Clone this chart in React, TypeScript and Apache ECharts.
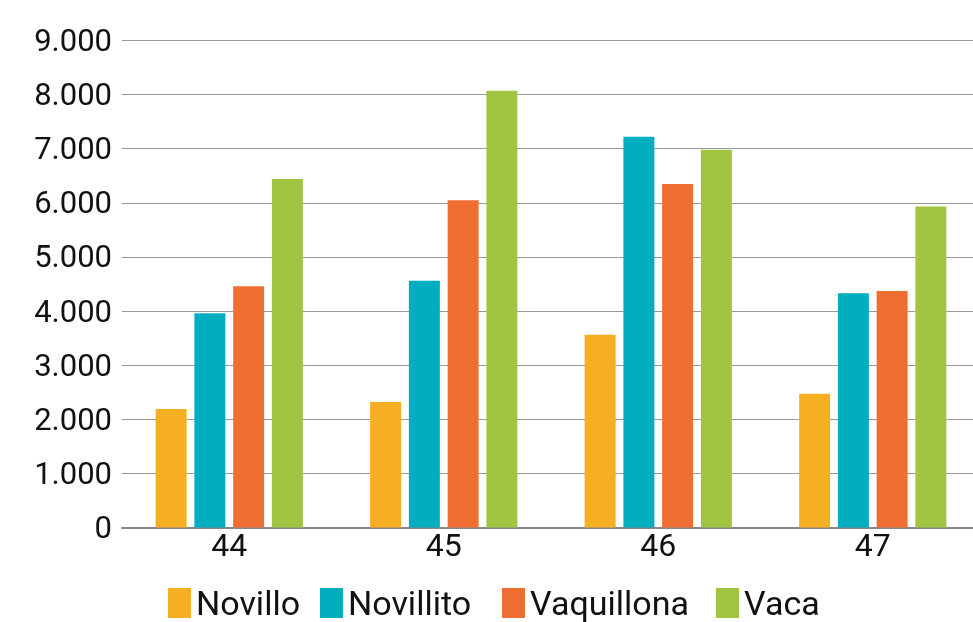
import React, { useEffect, useRef } from "react";
import * as echarts from "echarts";

const categories = ["44", "45", "46", "47"];
const seriesNames = ["Novillo", "Novillito", "Vaquillona", "Vaca"];
const novillo = [2190, 2320, 3560, 2470];
const novillito = [3960, 4560, 7220, 4330];
const vaquillona = [4460, 6050, 6350, 4370];
const vaca = [6440, 8070, 6980, 5930];
const colors = ["#F6AE23", "#00AEBF", "#EF6F33", "#A1C543"];
const yTicks = { min: 0, max: 9000, interval: 1000 };
const legendLefts = [168, 320, 502, 716];

export default function App() {
  const ref = useRef<HTMLDivElement>(null);
  useEffect(() => {
    if (!ref.current) return;
    const chart = echarts.init(ref.current, undefined, { renderer: "svg" });
    const values = [novillo, novillito, vaquillona, vaca];
    chart.setOption({
      animation: false,
      grid: { left: 122, right: 0, top: 40.5, bottom: 94.5, containLabel: false },
      legend: seriesNames.map((name, i) => ({
        data: [name],
        left: legendLefts[i],
        top: 586,
        padding: 0,
        itemWidth: 23,
        itemHeight: 30,
        icon: "rect",
        textStyle: { fontFamily: "Roboto", fontSize: 34, color: "#111" },
      })),
      xAxis: {
        type: "category",
        data: categories,
        axisTick: { show: false },
        axisLine: { lineStyle: { color: "#888", width: 2 } },
        axisLabel: { fontFamily: "Roboto", fontSize: 32, color: "#111", margin: 1 },
      },
      yAxis: {
        type: "value",
        min: yTicks.min,
        max: yTicks.max,
        interval: yTicks.interval,
        axisLine: { show: false },
        axisTick: { show: false },
        splitLine: { lineStyle: { color: "#999", width: 1 } },
        axisLabel: {
          fontFamily: "Roboto",
          fontSize: 31,
          color: "#111",
          margin: 10,
          formatter: (v: number) => v.toLocaleString("de-DE"),
        },
      },
      series: seriesNames.map((name, i) => ({
        name,
        type: "bar",
        data: values[i],
        barWidth: 31,
        barGap: "25%",
        itemStyle: { color: colors[i] },
      })),
    });
    return () => chart.dispose();
  }, []);
  return (
    <div
      ref={ref}
      style={{ position: "fixed", left: 0, top: 0, width: 980, height: 622 }}
    />
  );
}
